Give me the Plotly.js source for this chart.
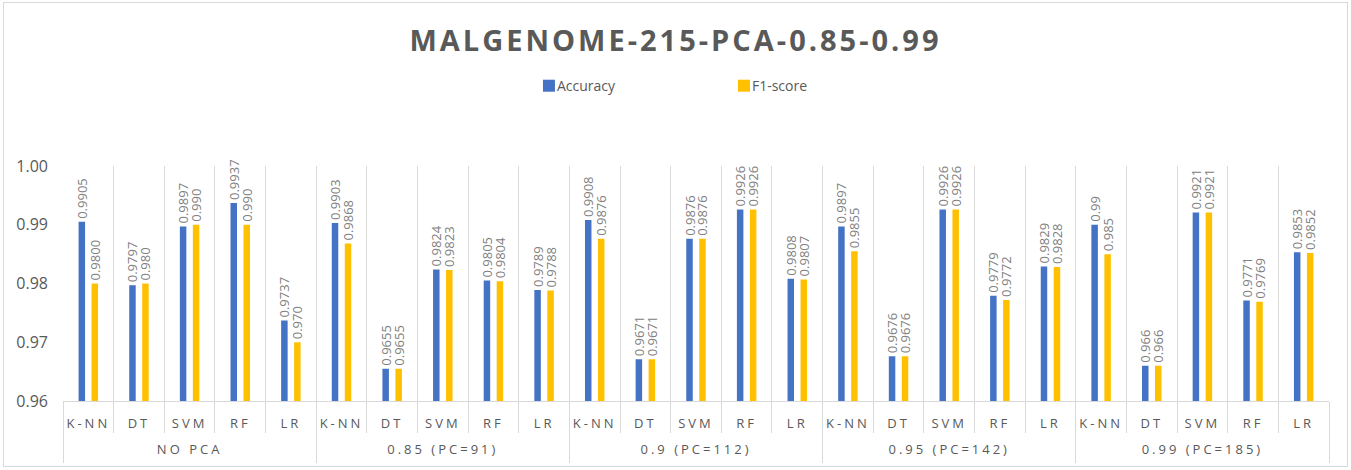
<!DOCTYPE html>
<html>
<head>
<meta charset="utf-8">
<script src="https://cdn.plot.ly/plotly-3.0.1.min.js"></script>
<style>
  html, body { margin: 0; padding: 0; background: #fff; }
  #wrap { position: relative; width: 1351px; height: 470px; }
  #chart { width: 1351px; height: 470px; }
  #frame { position: absolute; left: 3px; top: 2px; width: 1345px; height: 465px;
           border: 1px solid #d9d9d9; pointer-events: none; box-sizing: border-box; }
</style>
</head>
<body>
<div id="wrap"><div id="chart"></div><div id="frame"></div></div>
<script>
// ---- data ----
const groups = ["NO PCA", "0.85 (PC=91)", "0.9 (PC=112)", "0.95 (PC=142)", "0.99 (PC=185)"];
const models = ["K-NN", "DT", "SVM", "RF", "LR"];

const accuracyLabels = [
  "0.9905", "0.9797", "0.9897", "0.9937", "0.9737",
  "0.9903", "0.9655", "0.9824", "0.9805", "0.9789",
  "0.9908", "0.9671", "0.9876", "0.9926", "0.9808",
  "0.9897", "0.9676", "0.9926", "0.9779", "0.9829",
  "0.99",   "0.966",  "0.9921", "0.9771", "0.9853"
];
const f1Labels = [
  "0.9800", "0.980",  "0.990",  "0.990",  "0.970",
  "0.9868", "0.9655", "0.9823", "0.9804", "0.9788",
  "0.9876", "0.9671", "0.9876", "0.9926", "0.9807",
  "0.9855", "0.9676", "0.9926", "0.9772", "0.9828",
  "0.985",  "0.966",  "0.9921", "0.9769", "0.9852"
];
const yTickVals = [0.96, 0.97, 0.98, 0.99, 1.00];

// ---- build ----
const xKeys = [], xText = [];
groups.forEach(g => models.forEach(m => { xKeys.push(g + " / " + m); xText.push(m); }));
const accuracy = accuracyLabels.map(Number);
const f1 = f1Labels.map(Number);

const labelFont = { family: "Open Sans", size: 13, color: "#808080" };
const gridGray = "#d9d9d9";

const traces = [
  { type: "bar", name: "Accuracy", x: xKeys, y: accuracy,
    marker: { color: "#4472C4" }, text: accuracyLabels, textposition: "outside",
    textangle: -90, textfont: labelFont, cliponaxis: false, constraintext: "none",
    hoverinfo: "y" },
  { type: "bar", name: "F1-score", x: xKeys, y: f1,
    marker: { color: "#FFC000" }, text: f1Labels, textposition: "outside",
    textangle: -90, textfont: labelFont, cliponaxis: false, constraintext: "none",
    hoverinfo: "y" },
  // invisible helper trace that carries the group axis
  { type: "scatter", mode: "markers", x: groups, y: groups.map(() => null),
    xaxis: "x2", yaxis: "y", showlegend: false, hoverinfo: "skip",
    marker: { opacity: 0 } }
];

const layout = {
  width: 1351, height: 470,
  margin: { l: 63, r: 22, t: 166, b: 69 },
  paper_bgcolor: "#fff", plot_bgcolor: "#fff",
  font: { family: "Open Sans", color: "#595959" },
  title: { text: "MALGENOME-215-PCA-0.85-0.99", x: 0.5, xanchor: "center",
           y: 1 - 41 / 470, yanchor: "middle",
           font: { family: "Open Sans", size: 29, weight: 700, color: "#595959" } },
  barmode: "group", bargap: 0.487, bargroupgap: 0.5,
  showlegend: true,
  legend: { orientation: "h", x: 0.5126, xanchor: "center", y: 1.34, yanchor: "middle",
            font: { family: "Open Sans", size: 14, color: "#595959" },
            entrywidth: 150, entrywidthmode: "pixels", traceorder: "normal" },
  xaxis: { type: "category", categoryorder: "array", categoryarray: xKeys,
           tickmode: "array", tickvals: xKeys, ticktext: xText,
           tickson: "boundaries", showgrid: true,
           gridcolor: gridGray, gridwidth: 1, showline: true, linecolor: gridGray,
           ticks: "outside", ticklen: 31, tickcolor: gridGray, ticklabelstandoff: 10,
           tickfont: { family: "Open Sans", size: 13, color: "#595959" } },
  xaxis2: { type: "category", overlaying: "x", anchor: "y", side: "bottom",
            categoryorder: "array", categoryarray: groups, range: [-0.5, groups.length - 0.5],
            tickson: "boundaries", showgrid: false, showline: false, zeroline: false,
            ticks: "outside", ticklen: 61, tickcolor: gridGray, ticklabelstandoff: 39,
            tickfont: { family: "Open Sans", size: 13, color: "#595959" } },
  yaxis: { range: [0.96, 1.0], tickvals: yTickVals, tickformat: ".2f",
           showgrid: false, zeroline: false, showline: false, ticks: "",
           ticklabelstandoff: 14,
           tickfont: { family: "Open Sans", size: 16, color: "#595959" } }
};

Plotly.newPlot("chart", traces, layout, { displayModeBar: false, staticPlot: true }).then(() => {
  document.querySelectorAll(".xtick text, .x2tick text").forEach(t => t.setAttribute("letter-spacing", "3px"));
  document.querySelectorAll(".gtitle").forEach(t => t.setAttribute("letter-spacing", "3px"));
  document.querySelectorAll(".legend .legendpoints").forEach(p => {
    const cur = p.getAttribute("transform") || "";
    p.setAttribute("transform", cur + " translate(12,0)");
  });
});
</script>
</body>
</html>
